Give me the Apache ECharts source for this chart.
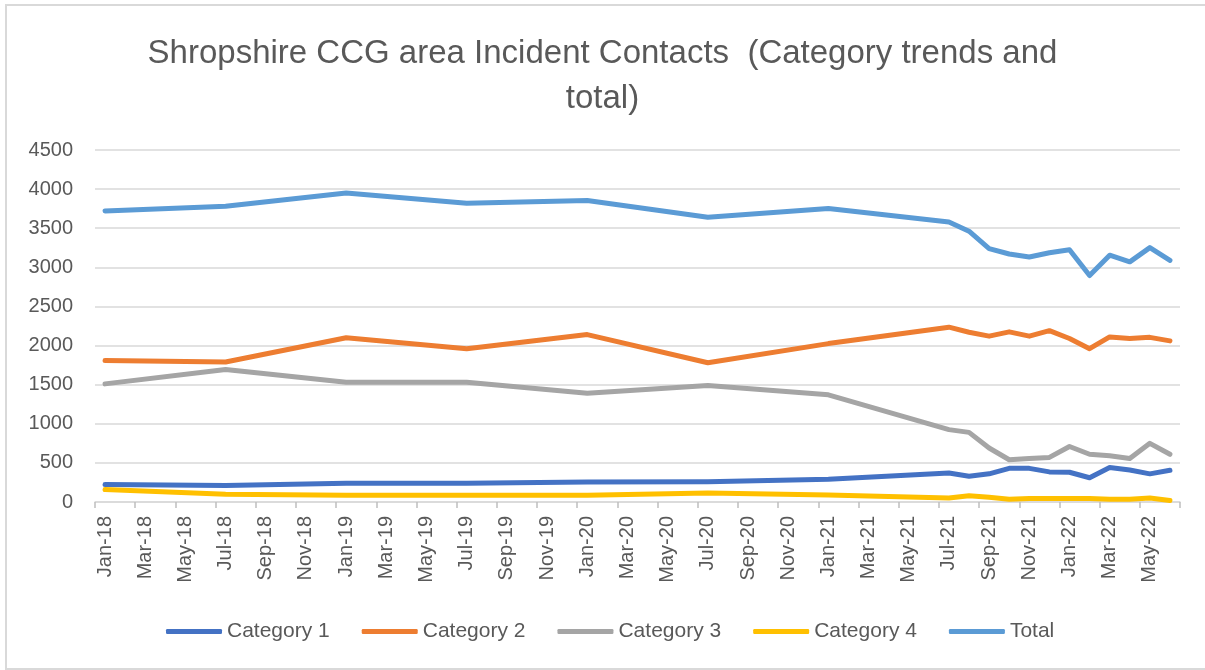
<!DOCTYPE html>
<html>
<head>
<meta charset="utf-8">
<script src="https://cdn.jsdelivr.net/npm/echarts@6/dist/echarts.min.js"></script>
<style>
html,body{margin:0;padding:0;background:#fff;}
#chart{width:1205px;height:670px;}
</style>
</head>
<body>
<div id="chart"></div>
<script>
// Axis categories (every month Jan-18 .. Jun-22)
var months = [
  "Jan-18","Feb-18","Mar-18","Apr-18","May-18","Jun-18","Jul-18","Aug-18","Sep-18","Oct-18","Nov-18","Dec-18",
  "Jan-19","Feb-19","Mar-19","Apr-19","May-19","Jun-19","Jul-19","Aug-19","Sep-19","Oct-19","Nov-19","Dec-19",
  "Jan-20","Feb-20","Mar-20","Apr-20","May-20","Jun-20","Jul-20","Aug-20","Sep-20","Oct-20","Nov-20","Dec-20",
  "Jan-21","Feb-21","Mar-21","Apr-21","May-21","Jun-21","Jul-21","Aug-21","Sep-21","Oct-21","Nov-21","Dec-21",
  "Jan-22","Feb-22","Mar-22","Apr-22","May-22","Jun-22"
];
// Months for which values are reported
var dataMonths = ["Jan-18","Jul-18","Jan-19","Jul-19","Jan-20","Jul-20","Jan-21","Jul-21","Aug-21","Sep-21","Oct-21","Nov-21","Dec-21","Jan-22","Feb-22","Mar-22","Apr-22","May-22","Jun-22"];

var category1 = [225, 210, 240, 240, 255, 260, 290, 370, 330, 360, 430, 430, 385, 380, 310, 440, 410, 360, 405];
var category2 = [1810, 1790, 2100, 1960, 2140, 1780, 2025, 2235, 2170, 2120, 2175, 2120, 2190, 2090, 1960, 2110, 2090, 2105, 2060];
var category3 = [1510, 1695, 1530, 1530, 1390, 1490, 1370, 925, 890, 690, 540, 555, 570, 710, 610, 590, 555, 750, 610];
var category4 = [160, 100, 85, 85, 85, 115, 90, 50, 80, 60, 35, 45, 45, 45, 45, 35, 35, 50, 20];
var total = [3720, 3780, 3950, 3820, 3855, 3640, 3752, 3580, 3462, 3240, 3170, 3133, 3187, 3225, 2895, 3155, 3070, 3252, 3090];

var seriesNames = ["Category 1","Category 2","Category 3","Category 4","Total"];
var seriesColors = ["#4472C4","#ED7D31","#A5A5A5","#FFC000","#5B9BD5"];
var yTicks = {min: 0, max: 4500, interval: 500};
var titleLines = ["Shropshire CCG area Incident Contacts  (Category trends and", "total)"];

function expand(values) {
  var out = months.map(function(){ return null; });
  dataMonths.forEach(function(m, i){ out[months.indexOf(m)] = values[i]; });
  return out;
}

var allValues = [category1, category2, category3, category4, total];
var titleStyle = {fontFamily: 'Liberation Sans', fontSize: 33, fontWeight: 'normal', color: '#595959'};

var chart = echarts.init(document.getElementById('chart'), null, {renderer: 'canvas'});
var option = {
  backgroundColor: '#ffffff',
  animation: false,
  color: seriesColors,
  title: [
    {text: titleLines[0], left: 'center', top: 32, textStyle: titleStyle},
    {text: titleLines[1], left: 'center', top: 77, textStyle: titleStyle}
  ],
  graphic: [{
    type: 'rect',
    shape: {x: 6, y: 5, width: 1212, height: 664},
    style: {fill: 'none', stroke: '#d9d9d9', lineWidth: 2},
    silent: true
  }],
  grid: {left: 95, right: 25, top: 150, bottom: 168, containLabel: false},
  legend: {
    bottom: 23,
    left: 161,
    itemWidth: 56,
    itemHeight: 5,
    itemGap: 32,
    icon: 'roundRect',
    textStyle: {fontFamily: 'Liberation Sans', fontSize: 21, color: '#595959'},
    data: seriesNames
  },
  xAxis: {
    type: 'category',
    data: months,
    boundaryGap: true,
    axisLine: {lineStyle: {color: '#d9d9d9', width: 1.5}},
    axisTick: {show: true, interval: 1, length: 6, lineStyle: {color: '#bfbfbf', width: 1.5}},
    axisLabel: {
      interval: 1,
      rotate: 90,
      margin: 14,
      fontFamily: 'Liberation Sans',
      fontSize: 20,
      color: '#595959'
    },
    splitLine: {show: false}
  },
  yAxis: {
    type: 'value',
    min: yTicks.min,
    max: yTicks.max,
    interval: yTicks.interval,
    axisLine: {show: false},
    axisTick: {show: false},
    axisLabel: {
      fontFamily: 'Liberation Sans', fontSize: 20, color: '#595959', margin: 22,
      formatter: function(v){ return String(v); }
    },
    splitLine: {lineStyle: {color: '#d9d9d9', width: 1.5}}
  },
  series: seriesNames.map(function(name, i){
    return {
      name: name,
      type: 'line',
      data: expand(allValues[i]),
      connectNulls: true,
      showSymbol: false,
      symbol: 'none',
      lineStyle: {width: 5, color: seriesColors[i], cap: 'round', join: 'round'},
      itemStyle: {color: seriesColors[i]}
    };
  })
};
chart.setOption(option);
</script>
</body>
</html>
